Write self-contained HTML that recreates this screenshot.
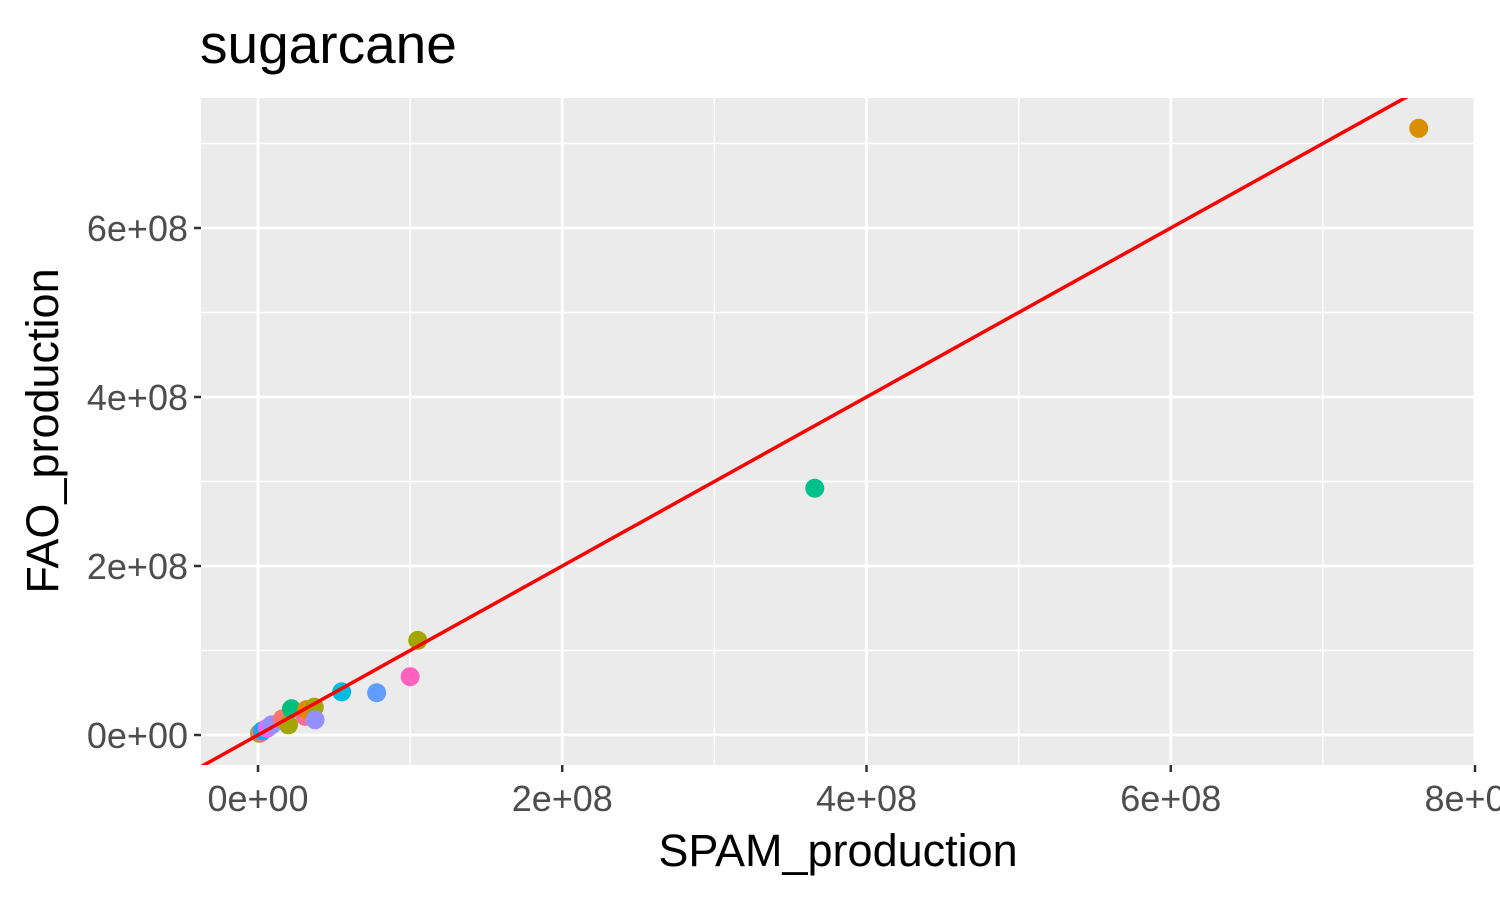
<!DOCTYPE html>
<html><head><meta charset="utf-8"><style>
html,body{margin:0;padding:0;background:#fff;}
svg text{font-family:"Liberation Sans",Arial,sans-serif;}
</style></head><body>
<svg id="chart" width="1500" height="900" xmlns="http://www.w3.org/2000/svg">
<text x="200" y="63" font-size="55" fill="#000">sugarcane</text>
<rect x="201" y="98" width="1274" height="667" fill="#ebebeb"/>
<g id="grid"></g>
<g id="marks"></g>
<g id="axes"></g>
<text x="838" y="866" font-size="45" text-anchor="middle" fill="#000">SPAM_production</text>
<text transform="translate(58,431) rotate(-90)" font-size="45" text-anchor="middle" fill="#000">FAO_production</text>
</svg>
<script>
const xTicks=[0,2e8,4e8,6e8,8e8];
const xTickLabels=["0e+00","2e+08","4e+08","6e+08","8e+08"];
const yTicks=[0,2e8,4e8,6e8];
const yTickLabels=["0e+00","2e+08","4e+08","6e+08"];
const spam=[7.63e8,3.66e8,1.05e8,1.0e8,0.78e8,0.55e8,0.375e8,0.37e8,0.32e8,0.31e8,0.22e8,0.2e8,0.16e8,0.09e8,0.06e8,0.03e8,0.02e8,0.01e8];
const fao=[7.18e8,2.92e8,1.12e8,0.69e8,0.50e8,0.51e8,0.18e8,0.33e8,0.30e8,0.22e8,0.31e8,0.12e8,0.19e8,0.12e8,0.08e8,0.05e8,0.03e8,0.02e8];
const colors=["#D89000","#00C08B","#A3A500","#FF62BC","#619CFF","#00BAE0","#9590FF","#A3A500","#E58700","#FF6C91","#00BF7D","#A3A500","#F8766D","#9590FF","#E76BF3","#00B0F6","#FF67A4","#A3A500"];
const X=v=>258+v/2e8*304.25, Y=v=>735-v/2e8*169;
const ns="http://www.w3.org/2000/svg";
function mk(t,a,p){const e=document.createElementNS(ns,t);for(const k in a)e.setAttribute(k,a[k]);p.appendChild(e);return e;}
const g=document.getElementById('grid'),m=document.getElementById('marks'),ax=document.getElementById('axes');
for(let i=0;i<xTicks.length;i++){
 const x=X(xTicks[i]);
 if(i<xTicks.length-1){const mx=X(xTicks[i]+1e8);const l=mk('line',{x1:mx,x2:mx,y1:98,y2:765,stroke:'#fff','stroke-width':1.4},g);
 
 }
 const l2=mk('line',{x1:x,x2:x,y1:98,y2:765,stroke:'#fff','stroke-width':2.8},g);
 
 
 const tk=mk('line',{x1:x,x2:x,y1:765,y2:772,stroke:'#333','stroke-width':2.5},ax);
 
 
 const t=mk('text',{x:x,y:811,'font-size':36,'text-anchor':'middle',fill:'#4d4d4d'},ax);t.textContent=xTickLabels[i];
 
 
}
for(let i=0;i<yTicks.length;i++){
 const y=Y(yTicks[i]);
 const my=Y(yTicks[i]+1e8);const l=mk('line',{x1:201,x2:1475,y1:my,y2:my,stroke:'#fff','stroke-width':1.4},g);
 
 
 const l2=mk('line',{x1:201,x2:1475,y1:y,y2:y,stroke:'#fff','stroke-width':2.8},g);
 
 
 const tk=mk('line',{x1:194,x2:201,y1:y,y2:y,stroke:'#333','stroke-width':2.5},ax);
 
 
 const t=mk('text',{x:188,y:y+13,'font-size':36,'text-anchor':'end',fill:'#4d4d4d'},ax);t.textContent=yTickLabels[i];
 
 
}
for(let i=spam.length-1;i>=0;i--){
 const c=mk('circle',{cx:X(spam[i]),cy:Y(fao[i]),r:9.5,fill:colors[i]},m);
 
 
}
mk('clipPath',{id:'cp'},m);
const cr=document.createElementNS(ns,'rect');
document.getElementById('cp').appendChild(cr);
['x','y','width','height'].forEach((k,j)=>cr.setAttribute(k,[201,98,1274,667][j]));
const lo=-1e8,hi=9e8;
const rl=mk('line',{x1:X(lo),y1:Y(lo),x2:X(hi),y2:Y(hi),stroke:'#ff0000','stroke-width':3.5,'clip-path':'url(#cp)'},m);


</script>
</body></html>
